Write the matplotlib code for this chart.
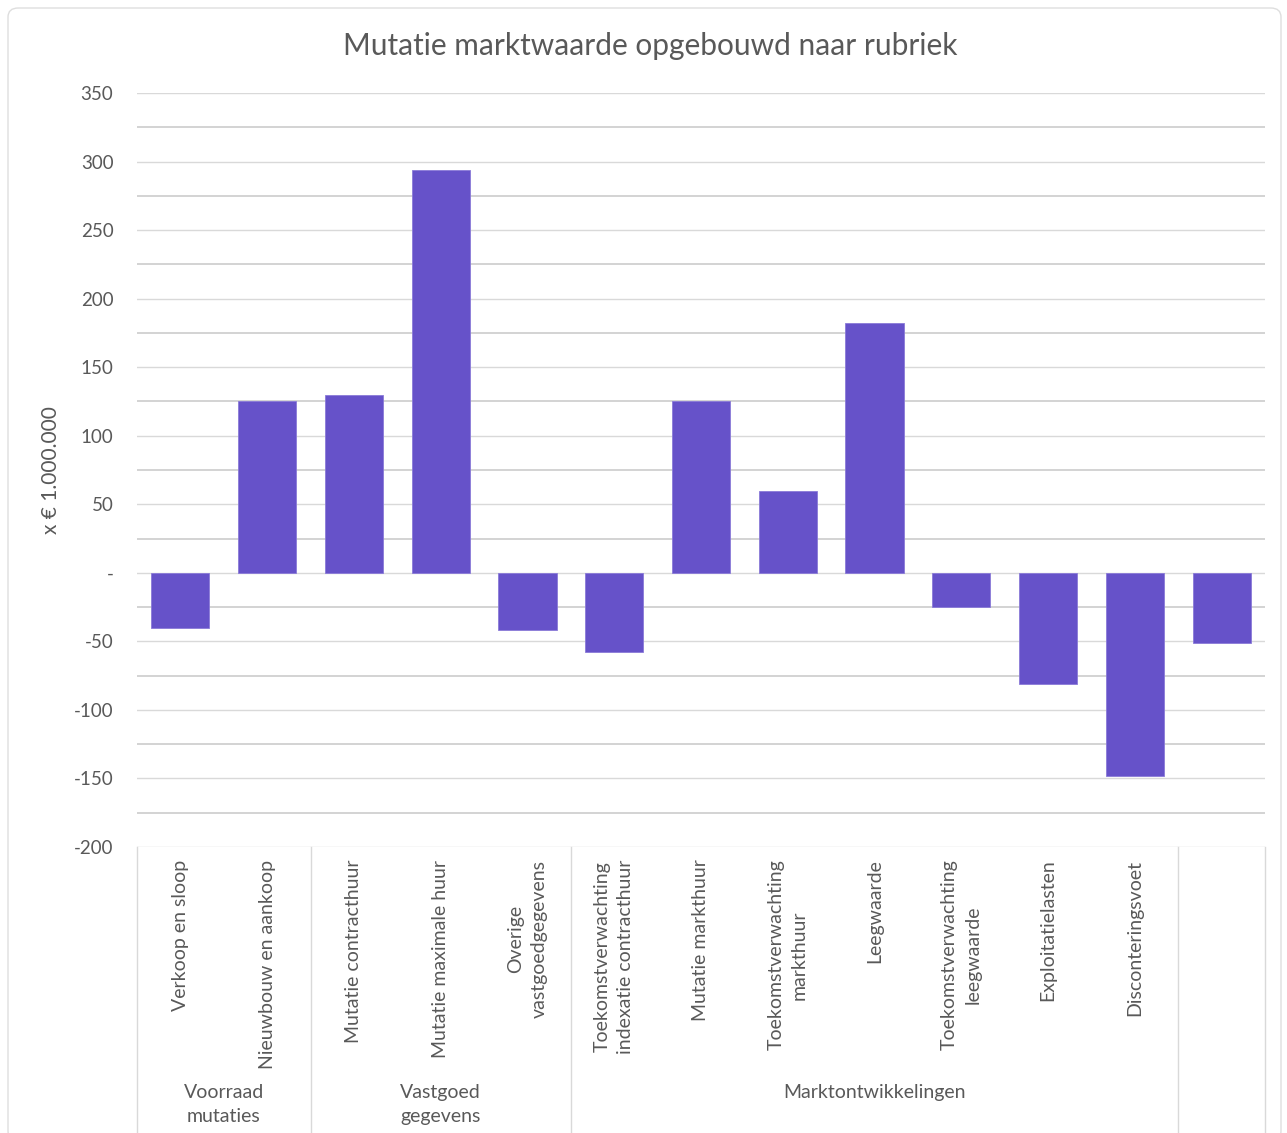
import matplotlib
matplotlib.use("Agg")
import matplotlib.pyplot as plt
from matplotlib.patches import FancyBboxPatch
from matplotlib.ticker import MultipleLocator, FuncFormatter

categories = [
    "Verkoop en sloop", "Nieuwbouw en aankoop", "Mutatie contracthuur",
    "Mutatie maximale huur", "Overige\nvastgoedgegevens",
    "Toekomstverwachting\nindexatie contracthuur", "Mutatie markthuur",
    "Toekomstverwachting\nmarkthuur", "Leegwaarde",
    "Toekomstverwachting\nleegwaarde", "Exploitatielasten",
    "Disconteringsvoet", "",
]
values = [-40, 125, 130, 294, -42, -58, 125, 60, 182, -25, -81, -148, -51]
groups = ["Voorraad\nmutaties", "Vastgoed\ngegevens", "Marktontwikkelingen", ""]
group_sizes = [2, 3, 7, 1]

FONT = ["Lato", "DejaVu Sans"]
plt.rcParams['font.family'] = FONT
TXT = "#595959"
GRID = "#d9d9d9"
BAR = "#6652C9"

W, H = 1287, 1133
fig = plt.figure(figsize=(W / 100, H / 100), dpi=100)

# outer frame
frame = FancyBboxPatch((8 / W, 1 - 1140 / H), (1281 - 8) / W, (1140 - 8) / H,
                       boxstyle="round,pad=0,rounding_size=0.008",
                       transform=fig.transFigure, facecolor="white",
                       edgecolor="#dedede", linewidth=1.0, zorder=-10)
fig.patches.append(frame)

left, right = 137 / W, 1265 / W
top, bottom = 1 - 93 / H, 1 - 847 / H
ax = fig.add_axes([left, bottom, right - left, top - bottom])
ax.set_facecolor("none")

x = list(range(len(categories)))
ax.bar(x, values, width=0.67, color=BAR, edgecolor="#8a7ad8", linewidth=0.6, zorder=3)

ax.set_xlim(-0.5, len(categories) - 0.5)
ax.set_ylim(-200, 350)
ax.yaxis.set_major_locator(MultipleLocator(50))
ax.yaxis.set_minor_locator(MultipleLocator(25))
ax.yaxis.set_major_formatter(FuncFormatter(lambda v, p: "-" if abs(v) < 1e-9 else f"{int(v)}"))
ax.grid(axis="y", which="major", color=GRID, linewidth=1.0, zorder=0)
ax.grid(axis="y", which="minor", color="#cccccc", linewidth=1.2, zorder=0)
ax.tick_params(axis="y", which="both", length=0, pad=17, labelsize=13.5, labelcolor=TXT)
for s in ax.spines.values():
    s.set_visible(False)

ax.set_xticks(x)
ax.set_xticklabels(categories, rotation=90, ha="center", va="top",
                   multialignment="center", fontsize=14, color=TXT, linespacing=1.45)
ax.tick_params(axis="x", length=0, pad=9)

ax.set_ylabel("x € 1.000.000", fontsize=15, color=TXT)
ax.yaxis.set_label_coords(-0.067, 0.5)

xt = ax.get_xaxis_transform()
edges = [-0.5]
for gs in group_sizes:
    edges.append(edges[-1] + gs)
for e in edges:
    ax.plot([e, e], [0, -0.385], transform=xt, color=GRID, linewidth=1.0, clip_on=False)

# group labels
start = -0.5
for g, gs in zip(groups, group_sizes):
    c = start + gs / 2
    if g:
        ax.text(c, -0.314, g, transform=xt, ha="center", va="top", fontsize=14,
                color=TXT, linespacing=1.5)
    start += gs

fig.text(650 / W, 1 - 46 / H, "Mutatie marktwaarde opgebouwd naar rubriek",
         ha="center", va="center", fontsize=21.5, color=TXT)

fig.savefig("out.png", dpi=100)
